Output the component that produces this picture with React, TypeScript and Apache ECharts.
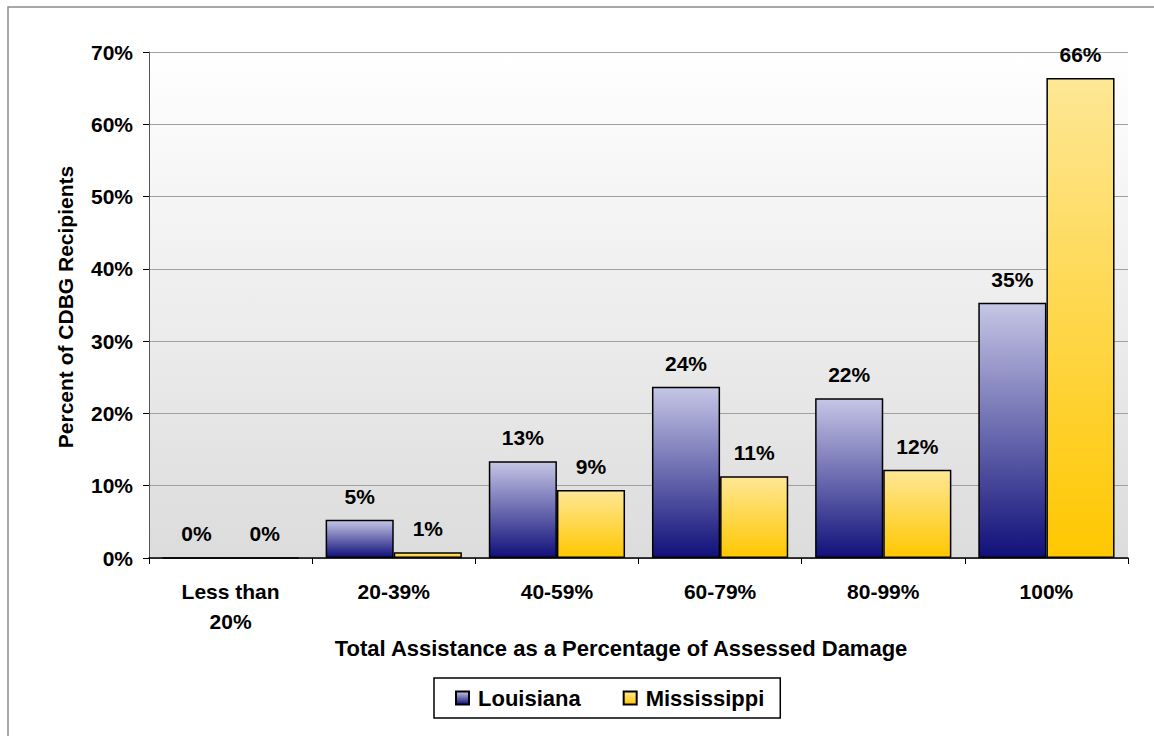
import React, { useEffect, useRef } from "react";
import * as echarts from "echarts";

const categories = ["Less than\n20%", "20-39%", "40-59%", "60-79%", "80-99%", "100%"];
const louisiana = [0, 5.3, 13.4, 23.7, 22.1, 35.3];
const mississippi = [0, 0.8, 9.4, 11.3, 12.2, 66.4];
const yTicks = [0, 10, 20, 30, 40, 50, 60, 70];

const FONT = "'Liberation Sans', Arial, sans-serif";

export default function App() {
  const ref = useRef<HTMLDivElement>(null);
  useEffect(() => {
    if (!ref.current) return;
    const chart = echarts.init(ref.current, undefined, { renderer: "svg" });
    const laGrad = new echarts.graphic.LinearGradient(0, 0, 0, 1, [
      { offset: 0, color: "#c6c6e6" },
      { offset: 1, color: "#10107a" },
    ]);
    const msGrad = new echarts.graphic.LinearGradient(0, 0, 0, 1, [
      { offset: 0, color: "#fee796" },
      { offset: 1, color: "#ffc700" },
    ]);
    const labelCfg = {
      show: true,
      position: "top" as const,
      distance: 13,
      fontFamily: FONT,
      fontWeight: "bold" as const,
      fontSize: 21,
      color: "#000",
      formatter: (p: any) => Math.round(p.value) + "%",
    };
    chart.setOption({
      animation: false,
      backgroundColor: "#fff",
      textStyle: { fontFamily: FONT },
      graphic: [
        {
          type: "rect",
          shape: { x: 8, y: 7, width: 1160, height: 740 },
          style: { fill: "none", stroke: "#8c8c8c", lineWidth: 1.5 },
          silent: true,
          z: -1,
        },
        {
          type: "text",
          x: 65,
          y: 307,
          rotation: Math.PI / 2,
          style: {
            text: "Percent of CDBG Recipients",
            font: `bold 21px ${FONT}`,
            fill: "#000",
            align: "center",
            verticalAlign: "middle",
          },
        },
        {
          type: "text",
          x: 621,
          y: 648,
          style: {
            text: "Total Assistance as a Percentage of Assessed Damage",
            font: `bold 22px ${FONT}`,
            fill: "#000",
            align: "center",
            verticalAlign: "middle",
          },
        },
      ],
      grid: {
        left: 149,
        right: 26,
        top: 52,
        bottom: 178,
        show: true,
        borderWidth: 0,
        backgroundColor: new echarts.graphic.LinearGradient(0, 0, 0, 1, [
          { offset: 0, color: "#ffffff" },
          { offset: 1, color: "#dcdcdc" },
        ]),
      },
      legend: {
        left: 434,
        top: 678,
        icon: "rect",
        itemWidth: 13,
        itemHeight: 13,
        itemGap: 42,
        padding: [9, 16, 9, 21],
        borderColor: "#000",
        borderWidth: 1.5,
        backgroundColor: "#fff",
        textStyle: {
          fontFamily: FONT,
          fontWeight: "bold",
          fontSize: 22,
          color: "#000",
          padding: [0, 0, 0, 4],
        },
        data: ["Louisiana", "Mississippi"],
      },
      xAxis: {
        type: "category",
        data: categories,
        axisLine: { lineStyle: { color: "#000", width: 1.5 } },
        axisTick: { show: true, length: 6, lineStyle: { color: "#000" } },
        axisLabel: {
          fontFamily: FONT,
          fontWeight: "bold",
          fontSize: 21,
          color: "#000",
          margin: 18,
          lineHeight: 30,
          interval: 0,
        },
      },
      yAxis: {
        type: "value",
        min: 0,
        max: 70,
        interval: 10,
        axisLine: { show: true, lineStyle: { color: "#555", width: 1 } },
        axisTick: { show: true, length: 6, lineStyle: { color: "#000" } },
        splitLine: { lineStyle: { color: "#a0a0a0", width: 1 } },
        axisLabel: {
          fontFamily: FONT,
          fontWeight: "bold",
          fontSize: 21,
          color: "#000",
          margin: 16,
          formatter: (v: number) => (yTicks.includes(v) ? v + "%" : ""),
        },
      },
      series: [
        {
          name: "Louisiana",
          type: "bar",
          data: louisiana,
          barGap: "0%",
          barCategoryGap: "16.5%",
          itemStyle: { color: laGrad, borderColor: "#000", borderWidth: 1.5 },
          label: labelCfg,
        },
        {
          name: "Mississippi",
          type: "bar",
          data: mississippi,
          itemStyle: { color: msGrad, borderColor: "#000", borderWidth: 1.5 },
          label: labelCfg,
        },
      ],
    });
    return () => chart.dispose();
  }, []);
  return (
    <div
      ref={ref}
      style={{ position: "fixed", left: 0, top: 0, width: 1154, height: 736 }}
    />
  );
}
